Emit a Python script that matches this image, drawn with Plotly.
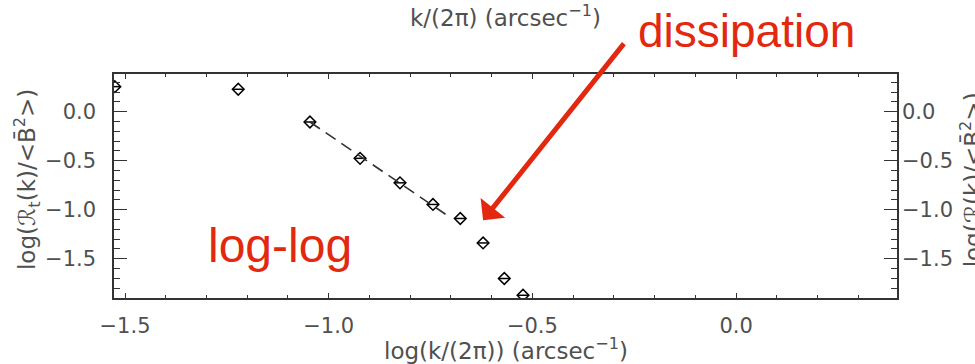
import plotly.graph_objects as go

# data (log-log spectrum)
log_k = [-1.525, -1.222, -1.046, -0.923, -0.825, -0.744, -0.677, -0.621, -0.569, -0.523]
log_R = [0.256, 0.229, -0.105, -0.476, -0.726, -0.947, -1.090, -1.340, -1.703, -1.874]
fit_x = [-1.046, -0.710]
fit_y = [-0.105, -1.056]

x_ticks = [-1.5, -1.0, -0.5, 0.0]
y_ticks = [0.0, -0.5, -1.0, -1.5]
x_range = [-1.527, 0.395]
y_range = [-1.902, 0.385]

RED = "#E2290F"
GRAY = "#505050"
FONT = "DejaVu Sans"

fig = go.Figure()
fig.add_trace(go.Scatter(x=fit_x, y=fit_y, mode="lines", yaxis="y2",
                         line=dict(color="#333", width=1.6, dash="12px,7px"),
                         showlegend=False, hoverinfo="skip"))
fig.add_trace(go.Scatter(x=log_k, y=log_R, mode="markers",
                         marker=dict(symbol="diamond-open", size=9, color="black",
                                     line=dict(width=1.5, color="black")),
                         showlegend=False))
fig.add_trace(go.Scatter(x=log_k, y=log_R, mode="markers",
                         marker=dict(symbol="line-ew-open", size=8, color="black",
                                     line=dict(width=1.5, color="black")),
                         showlegend=False))

axis_common = dict(showgrid=False, zeroline=False, showline=True, linecolor="#333",
                   linewidth=1.5, ticks="inside", tickcolor="#333",
                   tickfont=dict(family=FONT, size=21, color=GRAY))

fig.update_layout(
    width=975, height=364,
    margin=dict(l=114, r=78, t=74, b=66),
    paper_bgcolor="white", plot_bgcolor="white",
    xaxis=dict(range=x_range, tickvals=x_ticks, tickformat=".1f", ticklen=5, tickwidth=1.2,
               mirror="ticks", ticklabelstandoff=8,
               minor=dict(dtick=0.1, ticks="inside", ticklen=3, tickcolor="#333", tickwidth=1.2),
               **axis_common),
    yaxis=dict(range=y_range, tickvals=y_ticks, tickformat=".1f", ticklen=13, tickwidth=1.2,
               mirror="ticks", ticklabelstandoff=12,
               minor=dict(dtick=0.1, ticks="inside", ticklen=6, tickcolor="#333", tickwidth=1.2),
               **axis_common),
    yaxis2=dict(overlaying="y", side="right", matches="y", range=y_range, tickvals=y_ticks,
                tickformat=".1f", showgrid=False, zeroline=False, showline=False, ticks="",
                ticklabelstandoff=4, tickfont=dict(family=FONT, size=21, color=GRAY)),
)

title_font = dict(family=FONT, size=23, color=GRAY)
annotations = [
    dict(text="log(k/(2π)) (arcsec<sup>−1</sup>)", x=0.5, y=-0.228, xref="paper", yref="paper",
         xanchor="center", yanchor="middle", showarrow=False, font=title_font),
    dict(text="log(ℛ<sub>t</sub>(k)/&lt;B̄<sup>2</sup>&gt;)", x=-0.111, y=0.527, xref="paper",
         yref="paper", xanchor="center", yanchor="middle", textangle=-90, showarrow=False,
         font=title_font),
    dict(text="log(ℛ(k)/&lt;B̄<sup>2</sup>&gt;)", x=1.095, y=0.527, xref="paper",
         yref="paper", xanchor="center", yanchor="middle", textangle=-90, showarrow=False,
         font=title_font),
    dict(text="k/(2π) (arcsec<sup>−1</sup>)", x=0.5, y=1.258, xref="paper", yref="paper",
         xanchor="center", yanchor="middle", showarrow=False, font=title_font),
    dict(text="dissipation", x=0.8084, y=1.19, xref="paper", yref="paper",
         xanchor="center", yanchor="middle", showarrow=False,
         font=dict(family="Liberation Sans", size=46, color=RED)),
    dict(text="log-log", x=0.212, y=0.235, xref="paper", yref="paper",
         xanchor="center", yanchor="middle", showarrow=False,
         font=dict(family="Liberation Sans", size=48, color=RED)),
    dict(text="", x=-0.621, y=-1.107, xref="x", yref="y", showarrow=True,
         ax=142, ay=-178, arrowhead=1, arrowsize=1.05, arrowwidth=5, arrowcolor=RED, standoff=0),
]
fig.update_layout(annotations=annotations)

fig.write_html("out.html")
